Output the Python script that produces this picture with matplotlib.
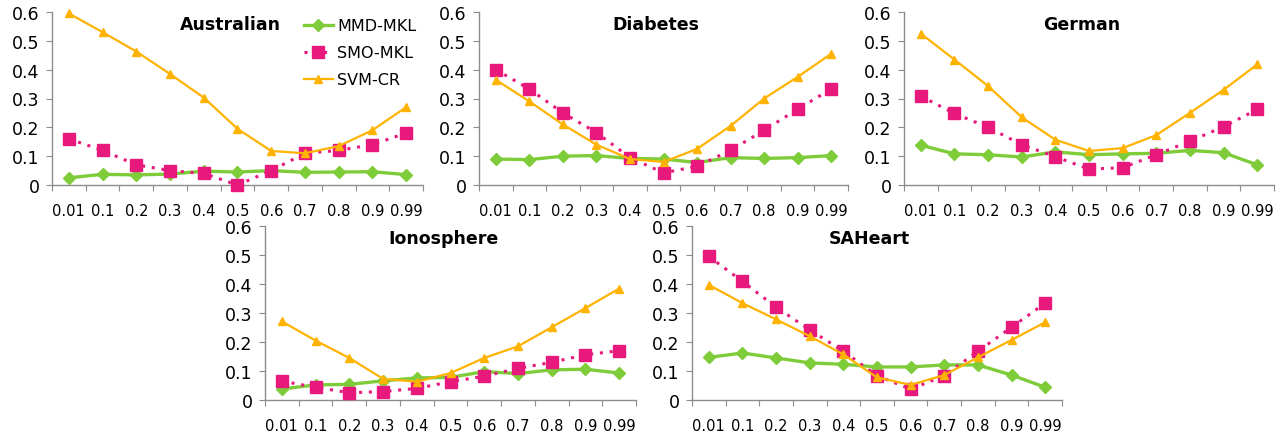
import numpy as np
import matplotlib
matplotlib.use("Agg")
import matplotlib.pyplot as plt

# x categories (shared by all panels)
categories = ["0.01", "0.1", "0.2", "0.3", "0.4", "0.5", "0.6", "0.7", "0.8", "0.9", "0.99"]
series_names = ["MMD-MKL", "SMO-MKL", "SVM-CR"]

# Australian
aus_mmd = [0.025, 0.037, 0.035, 0.038, 0.048, 0.045, 0.050, 0.044, 0.045, 0.046, 0.036]
aus_smo = [0.160, 0.120, 0.070, 0.050, 0.040, 0.000, 0.050, 0.110, 0.120, 0.140, 0.180]
aus_svm = [0.595, 0.530, 0.463, 0.385, 0.303, 0.195, 0.118, 0.110, 0.135, 0.190, 0.270]

# Diabetes
dia_mmd = [0.090, 0.088, 0.100, 0.102, 0.092, 0.090, 0.078, 0.095, 0.092, 0.095, 0.102]
dia_smo = [0.400, 0.333, 0.250, 0.182, 0.095, 0.042, 0.065, 0.120, 0.190, 0.263, 0.333]
dia_svm = [0.365, 0.290, 0.210, 0.140, 0.090, 0.080, 0.125, 0.205, 0.300, 0.375, 0.455]

# German
ger_mmd = [0.138, 0.108, 0.105, 0.097, 0.115, 0.105, 0.108, 0.110, 0.120, 0.112, 0.070]
ger_smo = [0.308, 0.248, 0.200, 0.140, 0.098, 0.055, 0.060, 0.105, 0.152, 0.202, 0.262]
ger_svm = [0.525, 0.435, 0.343, 0.235, 0.157, 0.118, 0.128, 0.173, 0.250, 0.330, 0.418]

# Ionosphere
ion_mmd = [0.038, 0.052, 0.054, 0.066, 0.076, 0.078, 0.098, 0.091, 0.104, 0.106, 0.093]
ion_smo = [0.065, 0.044, 0.025, 0.029, 0.040, 0.063, 0.082, 0.109, 0.130, 0.156, 0.170]
ion_svm = [0.271, 0.205, 0.145, 0.073, 0.063, 0.093, 0.145, 0.185, 0.251, 0.317, 0.384]

# SAHeart
sah_mmd = [0.147, 0.162, 0.145, 0.128, 0.123, 0.114, 0.114, 0.121, 0.121, 0.086, 0.044]
sah_smo = [0.495, 0.409, 0.320, 0.242, 0.168, 0.084, 0.037, 0.084, 0.168, 0.251, 0.334]
sah_svm = [0.397, 0.334, 0.278, 0.220, 0.157, 0.078, 0.052, 0.086, 0.147, 0.207, 0.268]

W, H = 1287, 439
GREEN = "#7fcc3a"
PINK = "#e8197c"
ORANGE = "#ffb300"
AXC = "#8c8c8c"

plt.rcParams["font.family"] = "DejaVu Sans"

fig = plt.figure(figsize=(W / 100, H / 100), dpi=100)


def make_ax(x0, x1, ytop, ybot):
    return fig.add_axes([x0 / W, 1 - ybot / H, (x1 - x0) / W, (ybot - ytop) / H])


def draw_panel(ax, title, mmd, smo, svm, legend=False):
    x = np.arange(len(categories))
    ax.plot(x, mmd, color=GREEN, lw=2.4, marker="D", ms=6, label=series_names[0],
            clip_on=False, zorder=3)
    ax.plot(x, smo, color=PINK, lw=2.2, ls=(0, (1, 2.2)), marker="s", ms=8,
            label=series_names[1], clip_on=False, zorder=4)
    ax.plot(x, svm, color=ORANGE, lw=1.6, marker="^", ms=6, label=series_names[2],
            clip_on=False, zorder=5)

    ax.set_xlim(-0.5, len(categories) - 0.5)
    ax.set_ylim(0, 0.6)
    ax.set_yticks(np.arange(0, 0.61, 0.1))
    ax.set_yticklabels(["0"] + [f"{v:.1f}" for v in np.arange(0.1, 0.61, 0.1)],
                       fontsize=12.5)
    ax.set_xticks(np.arange(-0.5, len(categories), 1.0))
    ax.set_xticklabels([])
    ax.set_xticks(x, minor=True)
    ax.set_xticklabels(categories, minor=True, fontsize=10.5)
    ax.tick_params(axis="x", which="major", length=4, color=AXC, direction="out")
    ax.tick_params(axis="x", which="minor", length=0, pad=13)
    ax.tick_params(axis="y", length=4, color=AXC, direction="out", pad=5)
    for s in ["top", "right"]:
        ax.spines[s].set_visible(False)
    for s in ["left", "bottom"]:
        ax.spines[s].set_color(AXC)
        ax.spines[s].set_linewidth(1.0)
    ax.text(0.48, 0.985, title, transform=ax.transAxes, ha="center", va="top",
            fontsize=12.5, fontweight="bold")
    if legend:
        ax.legend(loc="upper right", bbox_to_anchor=(1.0, 1.0), frameon=False,
                  fontsize=11.5, handlelength=1.8, handletextpad=0.3,
                  labelspacing=0.75, borderaxespad=0.0)


draw_panel(make_ax(52, 423, 13, 186), "Australian", aus_mmd, aus_smo, aus_svm, legend=True)
draw_panel(make_ax(479, 848, 13, 186), "Diabetes", dia_mmd, dia_smo, dia_svm)
draw_panel(make_ax(904, 1274, 13, 186), "German", ger_mmd, ger_smo, ger_svm)
draw_panel(make_ax(265, 636, 227, 401), "Ionosphere", ion_mmd, ion_smo, ion_svm)
draw_panel(make_ax(692, 1062, 227, 401), "SAHeart", sah_mmd, sah_smo, sah_svm)

fig.savefig("out.png", dpi=100)
